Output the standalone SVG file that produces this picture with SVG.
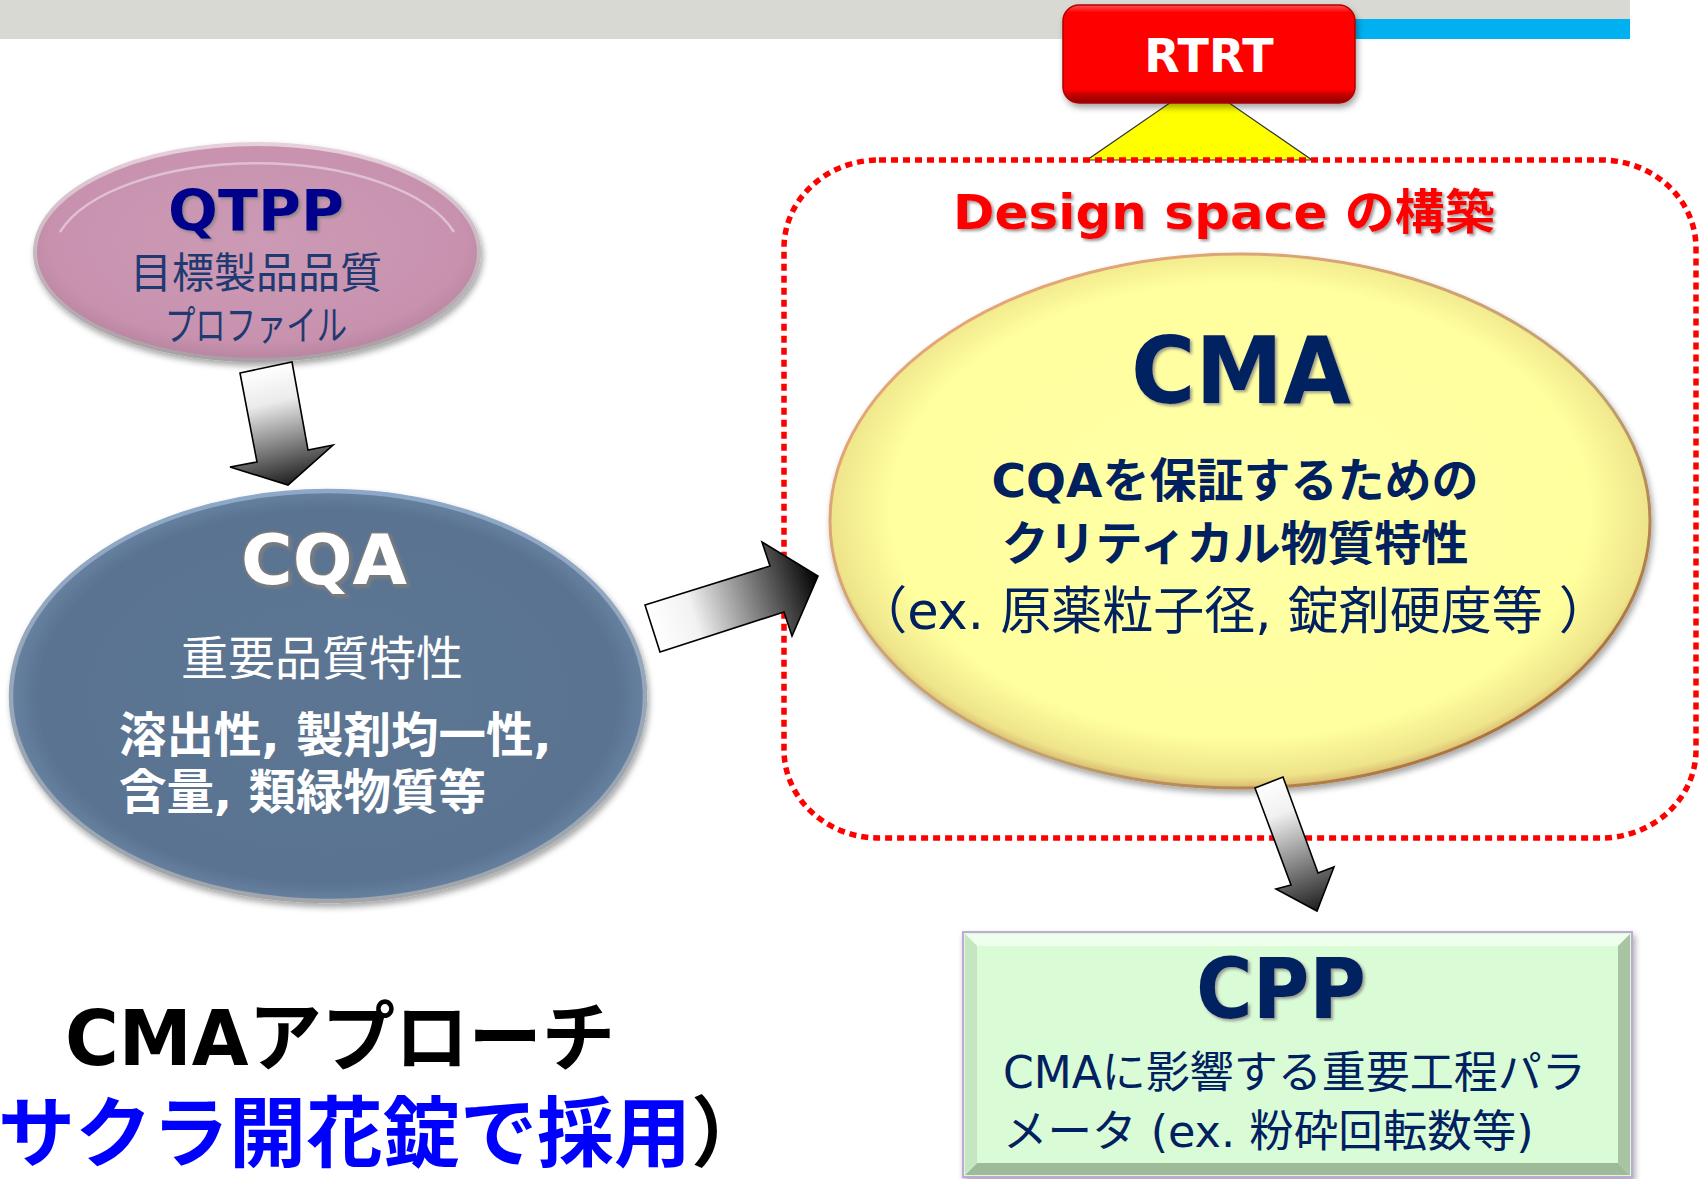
<svg xmlns="http://www.w3.org/2000/svg" width="1700" height="1179" viewBox="0 0 1700 1179">
<style>
.lat{font-family:"DejaVu Sans","Noto Sans CJK JP",sans-serif}
.jp{font-family:"Noto Sans CJK JP",sans-serif}
.b{font-weight:bold}
.navy{fill:#002060}
.arrow{stroke:#000;stroke-width:1.6;stroke-linejoin:miter}
</style>
<defs>
<filter id="sh" x="-10%" y="-10%" width="120%" height="130%">
<feDropShadow dx="2" dy="4" stdDeviation="3" flood-color="#000" flood-opacity="0.35"/>
</filter>
<filter id="tsh" x="-5%" y="-10%" width="110%" height="130%">
<feDropShadow dx="2" dy="2" stdDeviation="1.5" flood-color="#808080" flood-opacity="0.8"/>
</filter>
<radialGradient id="gPink" cx="50%" cy="45%" r="55%">
<stop offset="0" stop-color="#CC9AB5"/><stop offset="0.85" stop-color="#C892AF"/><stop offset="1" stop-color="#B8849F"/>
</radialGradient>
<linearGradient id="gPinkRim" x1="0" y1="0" x2="0" y2="1">
<stop offset="0" stop-color="#E6D0DC"/><stop offset="1" stop-color="#A8A0A4"/>
</linearGradient>
<radialGradient id="gBlue" cx="50%" cy="50%" r="52%">
<stop offset="0" stop-color="#5B7593"/><stop offset="0.88" stop-color="#5A7391"/><stop offset="1" stop-color="#6E88A8"/>
</radialGradient>
<linearGradient id="gBlueRim" x1="0" y1="0" x2="0" y2="1">
<stop offset="0" stop-color="#8DA8C8"/><stop offset="1" stop-color="#A2A6AA"/>
</linearGradient>
<radialGradient id="gYel" cx="50%" cy="48%" r="52%">
<stop offset="0" stop-color="#FFFFA8"/><stop offset="0.82" stop-color="#FFFF9E"/><stop offset="0.96" stop-color="#EEE48A"/><stop offset="1" stop-color="#D8B870"/>
</radialGradient>
<linearGradient id="gYelRim" x1="0" y1="0" x2="1" y2="1">
<stop offset="0" stop-color="#F0A878"/><stop offset="0.6" stop-color="#C0A070"/><stop offset="1" stop-color="#A05A20"/>
</linearGradient>
<linearGradient id="gRed" x1="0" y1="0" x2="0" y2="1">
<stop offset="0" stop-color="#FF5050"/><stop offset="0.08" stop-color="#FF0000"/><stop offset="0.86" stop-color="#FF0000"/><stop offset="0.92" stop-color="#C00000"/><stop offset="1" stop-color="#900000"/>
</linearGradient>
<linearGradient id="gA1" gradientUnits="userSpaceOnUse" x1="262" y1="368" x2="290" y2="485">
<stop offset="0" stop-color="#FFFFFF"/><stop offset="0.3" stop-color="#EBEBEB"/><stop offset="1" stop-color="#1E1E1E"/>
</linearGradient>
<linearGradient id="gA2" gradientUnits="userSpaceOnUse" x1="652" y1="628" x2="818" y2="576">
<stop offset="0" stop-color="#FFFFFF"/><stop offset="0.25" stop-color="#F2F2F2"/><stop offset="1" stop-color="#000000"/>
</linearGradient>
<linearGradient id="gA3" gradientUnits="userSpaceOnUse" x1="1268" y1="782" x2="1317" y2="911">
<stop offset="0" stop-color="#FFFFFF"/><stop offset="0.25" stop-color="#F0F0F0"/><stop offset="1" stop-color="#1E1E1E"/>
</linearGradient>
</defs>

<rect width="1700" height="1179" fill="#FFFFFF"/>

<g id="header">
<rect x="0" y="0" width="1630" height="39" fill="#D9D9D4"/>
<rect x="1355" y="19" width="275" height="20" fill="#00B0F0"/>
</g>

<g id="design-space">
<polygon points="1174,100 1225,100 1312,160 1087,160" fill="#FFFF00" stroke="#333" stroke-width="1.2"/>
<rect x="784" y="160" width="912" height="678" rx="95" ry="88" fill="none" stroke="#FF0000" stroke-width="5.5" stroke-dasharray="7 5"/>
<text class="lat b" x="1224" y="229" font-size="48" fill="#FF0000" text-anchor="middle" textLength="542" lengthAdjust="spacingAndGlyphs" filter="url(#tsh)">Design space の構築</text>
</g>

<g id="rtrt">
<rect x="1063" y="5" width="292" height="98" rx="16" fill="url(#gRed)" stroke="#B00000" stroke-width="1.5" filter="url(#sh)"/>
<text class="lat b" x="1209" y="72" font-size="46" fill="#FFFFFF" text-anchor="middle">RTRT</text>
</g>

<g id="qtpp">
<ellipse cx="257" cy="252" rx="222" ry="108" fill="url(#gPink)" stroke="url(#gPinkRim)" stroke-width="4" filter="url(#sh)"/>
<path d="M 60 232 A 205 95 0 0 1 454 232" fill="none" stroke="#E8D4E0" stroke-width="2.5" opacity="0.7"/>
<text class="lat b" x="256" y="231" font-size="57" fill="#00008B" text-anchor="middle" textLength="176" lengthAdjust="spacingAndGlyphs" filter="url(#tsh)">QTPP</text>
<text class="jp" x="256" y="288" font-size="42" fill="#1F3A70" text-anchor="middle">目標製品品質</text>
<text class="jp" x="256" y="340" font-size="41" fill="#1F3A70" text-anchor="middle" textLength="182" lengthAdjust="spacingAndGlyphs">プロファイル</text>
</g>

<g id="cqa">
<ellipse cx="328" cy="696" rx="317" ry="205" fill="url(#gBlue)" stroke="url(#gBlueRim)" stroke-width="4.5" filter="url(#sh)"/>
<text class="lat b" x="324" y="584" font-size="70" fill="#FFFFFF" stroke="#7A7A7A" stroke-width="3" paint-order="stroke" text-anchor="middle" textLength="166" lengthAdjust="spacingAndGlyphs" filter="url(#tsh)">CQA</text>
<text class="jp" x="322" y="675" font-size="47" fill="#FFFFFF" text-anchor="middle">重要品質特性</text>
<text class="lat b" x="119" y="752" font-size="47.5" fill="#FFFFFF">溶出性, 製剤均一性,</text>
<text class="lat b" x="119" y="809" font-size="47.5" fill="#FFFFFF">含量, 類緑物質等</text>
</g>

<g id="cma">
<ellipse cx="1240" cy="521" rx="410" ry="267" fill="url(#gYel)" stroke="url(#gYelRim)" stroke-width="3" filter="url(#sh)"/>
<text class="lat b navy" x="1241" y="403" font-size="92" text-anchor="middle" textLength="220" lengthAdjust="spacingAndGlyphs" filter="url(#tsh)">CMA</text>
<text class="lat b navy" x="1235" y="497" font-size="47" text-anchor="middle">CQAを保証するための</text>
<text class="lat b navy" x="1235" y="560" font-size="47" text-anchor="middle">クリティカル物質特性</text>
<text class="lat navy" x="1233" y="629" font-size="51" text-anchor="middle">（ex. 原薬粒子径, 錠剤硬度等 ）</text>
</g>

<g id="cpp">
<rect x="963" y="932" width="669" height="245" fill="#D9FBD5" stroke="#C0A8D8" stroke-width="2" filter="url(#sh)"/>
<polygon points="965,934 1630,934 1618,946 977,946" fill="#EEFFEC"/>
<polygon points="1630,934 1630,1175 1618,1163 1618,946" fill="#A8C4A2"/>
<polygon points="965,1175 1630,1175 1618,1163 977,1163" fill="#9EBA98"/>
<polygon points="965,934 977,946 977,1163 965,1175" fill="#C4E6C0"/>
<text class="lat b navy" x="1281" y="1018" font-size="84" text-anchor="middle" textLength="170" lengthAdjust="spacingAndGlyphs" filter="url(#tsh)">CPP</text>
<text class="lat navy" x="1003" y="1088" font-size="44">CMAに影響する重要工程パラ</text>
<text class="lat navy" x="1003" y="1147" font-size="44.5">メータ (ex. 粉砕回転数等)</text>
</g>

<g id="connectors">
<polygon class="arrow" fill="url(#gA1)" points="240,373 292,362 308,450 333,445 288,485 230,467 257,462"/>
<polygon class="arrow" fill="url(#gA2)" points="645,605 770,566 762,542 818,576 792,636 784,612 660,652"/>
<polygon class="arrow" fill="url(#gA3)" points="1255,788 1283,777 1318,873 1334,867 1317,911 1276,889 1291,885"/>
</g>

<g id="caption">
<text class="lat b" x="65" y="1065" font-size="76" fill="#000000" textLength="550" lengthAdjust="spacingAndGlyphs">CMAアプローチ</text>
<text class="jp b" x="-2" y="1161" font-size="77" fill="#0000FF">サクラ開花錠で採用<tspan fill="#000000">）</tspan></text>
</g>
</svg>
